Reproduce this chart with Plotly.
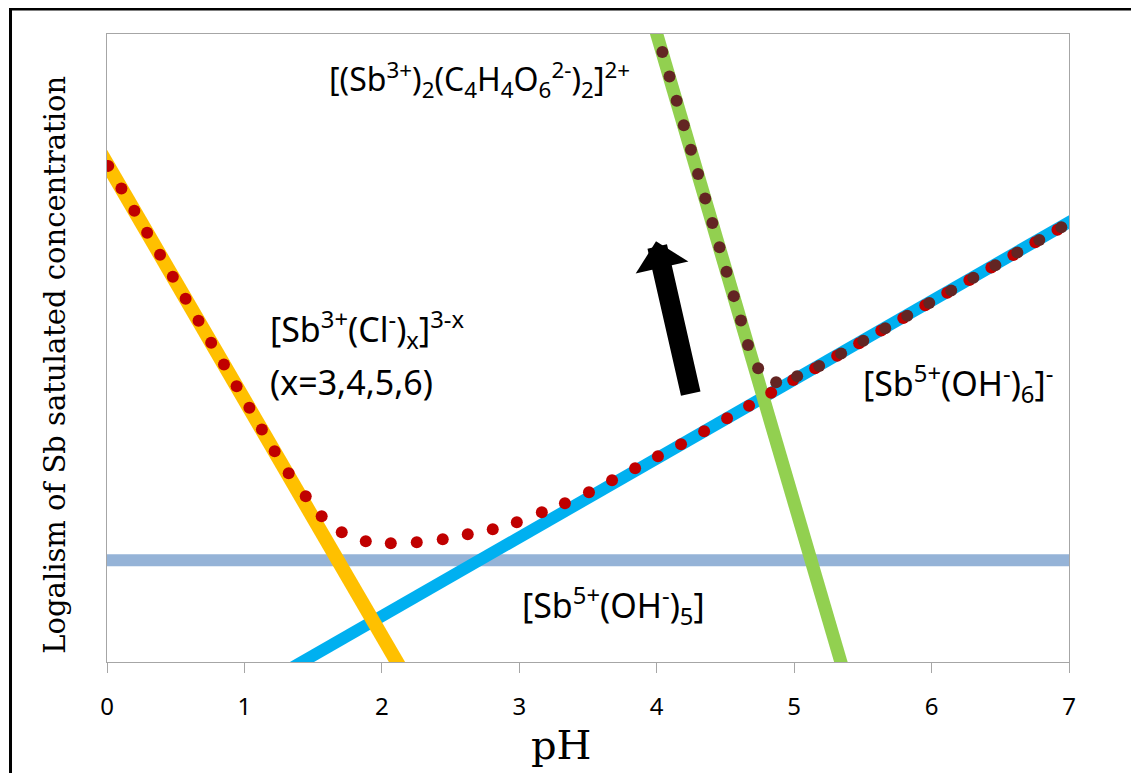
import plotly.graph_objects as go

# ---- data (pH vs. log of saturated Sb concentration, arbitrary log units) ----
cl_x = [-0.10, 2.243]          # [Sb3+(Cl-)x]3-x
cl_y = [8.31, -0.50]
oh6_x = [1.02, 7.10]           # [Sb5+(OH-)6]-
oh6_y = [-0.50, 7.13]
tart_x = [3.933, 5.407]        # [(Sb3+)2(C4H4O6 2-)2]2+
tart_y = [10.50, -0.50]
oh5_x = [-0.10, 7.10]          # [Sb5+(OH-)5]
oh5_y = [1.62, 1.62]

# total solubility without tartrate (red dotted)
tot_cl_x = [0.009, 0.105, 0.199, 0.292, 0.386, 0.479, 0.572, 0.666, 0.758, 0.851,
            0.943, 1.036, 1.127, 1.220, 1.322, 1.446, 1.562, 1.708, 1.883, 2.065,
            2.254, 2.443, 2.625, 2.807, 2.982, 3.164, 3.332, 3.507, 3.675, 3.843,
            4.009, 4.177, 4.345, 4.512, 4.672, 4.833, 4.993, 5.153, 5.313, 5.473,
            5.634, 5.794, 5.954, 6.114, 6.275, 6.435, 6.595, 6.755, 6.916]
tot_cl_y = [7.90, 7.54, 7.185, 6.834, 6.484, 6.134, 5.783, 5.433, 5.085, 4.738,
            4.392, 4.047, 3.702, 3.357, 3.006, 2.640, 2.321, 2.066, 1.923, 1.891,
            1.907, 1.955, 2.034, 2.114, 2.226, 2.385, 2.528, 2.704, 2.894, 3.086,
            3.277, 3.468, 3.675, 3.882, 4.082, 4.289, 4.490, 4.676, 4.877, 5.077,
            5.278, 5.479, 5.680, 5.880, 6.081, 6.282, 6.482, 6.683, 6.884]

# total solubility with tartrate (brown dotted)
tot_t_x = [4.041, 4.093, 4.145, 4.197, 4.249, 4.301, 4.353, 4.405, 4.457, 4.508,
           4.561, 4.613, 4.664, 4.738, 4.869, 5.022, 5.182, 5.342, 5.503, 5.663,
           5.823, 5.983, 6.143, 6.304, 6.464, 6.624, 6.784, 6.944]
tot_t_y = [9.713, 9.325, 8.936, 8.547, 8.158, 7.770, 7.381, 6.992, 6.604, 6.215,
           5.826, 5.437, 5.049, 4.676, 4.456, 4.552, 4.713, 4.913, 5.114, 5.315,
           5.515, 5.716, 5.917, 6.118, 6.318, 6.519, 6.720, 6.921]

x_ticks = [0, 1, 2, 3, 4, 5, 6, 7]

fig = go.Figure()
fig.add_trace(go.Scatter(x=oh5_x, y=oh5_y, mode="lines",
                         line=dict(color="#95B3D7", width=12), showlegend=False))
fig.add_trace(go.Scatter(x=oh6_x, y=oh6_y, mode="lines",
                         line=dict(color="#00B0F0", width=12), showlegend=False))
fig.add_trace(go.Scatter(x=cl_x, y=cl_y, mode="lines",
                         line=dict(color="#FFC000", width=14), showlegend=False))
fig.add_trace(go.Scatter(x=tart_x, y=tart_y, mode="lines",
                         line=dict(color="#92D050", width=13), showlegend=False))
fig.add_trace(go.Scatter(x=tot_cl_x, y=tot_cl_y, mode="markers",
                         marker=dict(color="#C00000", size=12, line=dict(width=0)),
                         showlegend=False))
fig.add_trace(go.Scatter(x=tot_t_x, y=tot_t_y, mode="markers",
                         marker=dict(color="#632523", size=12, line=dict(width=0)),
                         showlegend=False))

txt_font = dict(family="Noto Sans", size=34, color="#000000")

fig.update_layout(
    width=1139, height=773,
    margin=dict(l=98.5, r=78, t=26, b=119.3, pad=0),
    paper_bgcolor="white", plot_bgcolor="white",
    xaxis=dict(range=[0, 7], tickvals=x_ticks, ticks="outside", ticklen=10,
               tickcolor="#A6A6A6", tickwidth=1, automargin=False,
               ticklabelstandoff=13,
               showline=True, linecolor="#A6A6A6", linewidth=1, mirror=True,
               showgrid=False, zeroline=False,
               tickfont=dict(family="Noto Sans", size=24, color="#000000")),
    yaxis=dict(range=[0, 10], showticklabels=False, ticks="", automargin=False,
               showline=True, linecolor="#A6A6A6", linewidth=1, mirror=True,
               showgrid=False, zeroline=False),
    shapes=[dict(type="rect", xref="paper", yref="paper",
                 x0=-0.1003, x1=1.077, y0=-0.19, y1=1.0398,
                 line=dict(color="black", width=3), layer="above")],
    annotations=[
        dict(x=0.4722, y=-0.1327, xref="paper", yref="paper", showarrow=False,
             xanchor="center", yanchor="middle",
             text="pH", font=dict(family="DejaVu Serif", size=40, color="#000000")),
        dict(x=-0.0535, y=0.4727, xref="paper", yref="paper", showarrow=False,
             xanchor="center", yanchor="middle",
             textangle=-90, text="Logalism of Sb satulated concentration",
             font=dict(family="DejaVu Serif", size=29, color="#000000")),
        dict(x=2.713, y=9.27, xref="x", yref="y", showarrow=False,
             xanchor="center", yanchor="middle",
             text="[(Sb<sup>3+</sup>)<sub>2</sub>(C<sub>4</sub>H<sub>4</sub>O<sub>6</sub><sup>2-</sup>)<sub>2</sub>]<sup>2+</sup>",
             font=dict(family="Noto Sans", size=32, color="#000000")),
        dict(x=1.175, y=5.30, xref="x", yref="y", showarrow=False, xanchor="left",
             yanchor="middle",
             text="[Sb<sup>3+</sup>(Cl<sup>-</sup>)<sub>x</sub>]<sup>3-x</sup>",
             font=txt_font),
        dict(x=1.175, y=4.46, xref="x", yref="y", showarrow=False, xanchor="left",
             yanchor="middle", text="(x=3,4,5,6)", font=txt_font),
        dict(x=3.689, y=0.90, xref="x", yref="y", showarrow=False,
             xanchor="center", yanchor="middle",
             text="[Sb<sup>5+</sup>(OH<sup>-</sup>)<sub>5</sub>]", font=txt_font),
        dict(x=5.488, y=4.44, xref="x", yref="y", showarrow=False, xanchor="left",
             yanchor="middle",
             text="[Sb<sup>5+</sup>(OH<sup>-</sup>)<sub>6</sub>]<sup>-</sup>", font=txt_font),
        dict(x=3.995, y=6.70, xref="x", yref="y", ax=4.25, ay=4.25, axref="x", ayref="y",
             text="", showarrow=True, arrowhead=1, arrowsize=0.45, arrowwidth=20,
             arrowcolor="black", standoff=0),
    ],
)

fig.write_html("out.html")
